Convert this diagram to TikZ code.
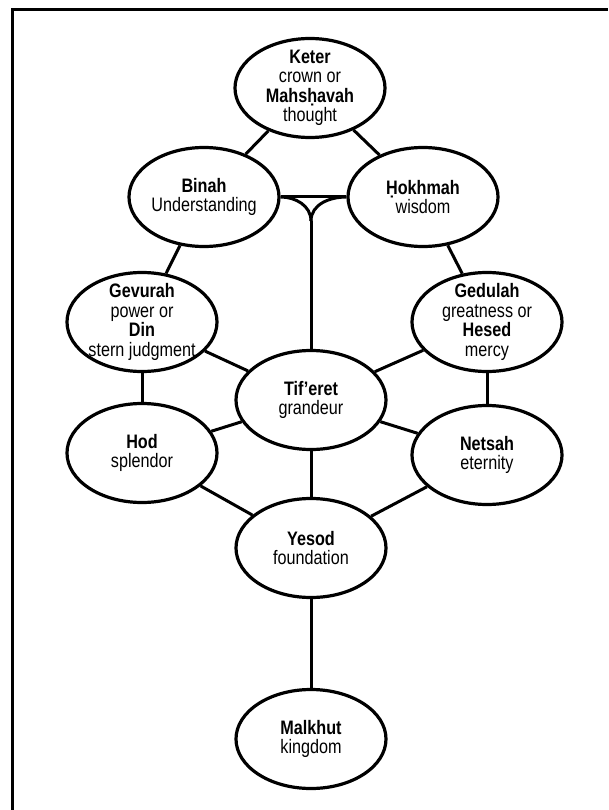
\documentclass[tikz,border=0pt]{standalone}
\usepackage{fontspec}
\setmainfont{Liberation Sans}[FakeStretch=0.83]
\usepackage{xcolor}
\usetikzlibrary{shapes.geometric}

\tikzset{
  sefira/.style={draw, ellipse, line width=3.2pt, minimum width=150pt, minimum height=99pt, inner sep=0pt},
  txt/.style={align=center, font=\fontsize{19.5}{19.5}\selectfont, inner sep=0pt},
  link/.style={line width=3pt}
}

\begin{document}
\begin{tikzpicture}[x=1pt, y=-1pt]
  \useasboundingbox (0,0) rectangle (608,810);
  %外框（只露出左边和上边）
  \draw[line width=3pt] (12,810) -- (12,10) -- (608,10);
  %绘制十个椭圆
  \node[sefira] (keter)   at (310,88)  {};
  \node[sefira] (binah)   at (204,197) {};
  \node[sefira] (hokhmah) at (423,197) {};
  \node[sefira] (gevurah) at (142,322) {};
  \node[sefira] (gedulah) at (487,322) {};
  \node[sefira] (tiferet) at (311,400) {};
  \node[sefira] (hod)     at (142,453) {};
  \node[sefira] (netsah)  at (487,455) {};
  \node[sefira] (yesod)   at (311,548) {};
  \node[sefira] (malkhut) at (311,739) {};
  %椭圆中的文字
  \node[txt] (keter-t)   at (keter)   {\textbf{Keter}\\crown or\\\textbf{Mahsḥavah}\\thought};
  \node[txt] (binah-t)   at (binah)   {\textbf{Binah}\\Understanding};
  \node[txt] (hokhmah-t) at (hokhmah) {\textbf{Ḥokhmah}\\wisdom};
  \node[txt] (gevurah-t) at (gevurah) {\textbf{Gevurah}\\power or\\\textbf{Din}\\stern judgment};
  \node[txt] (gedulah-t) at (gedulah) {\textbf{Gedulah}\\greatness or\\\textbf{Hesed}\\mercy};
  \node[txt] (tiferet-t) at (tiferet) {\textbf{Tif’eret}\\grandeur};
  \node[txt] (hod-t)     at (hod)     {\textbf{Hod}\\splendor};
  \node[txt] (netsah-t)  at (netsah)  {\textbf{Netsah}\\eternity};
  \node[txt] (yesod-t)   at (yesod)   {\textbf{Yesod}\\foundation};
  \node[txt] (malkhut-t) at (malkhut) {\textbf{Malkhut}\\kingdom};
  %连线
  \foreach \a/\b in {keter/binah, keter/hokhmah, binah/gevurah, hokhmah/gedulah,
                     gevurah/tiferet, gedulah/tiferet, gevurah/hod, gedulah/netsah,
                     hod/tiferet, netsah/tiferet, tiferet/yesod, hod/yesod,
                     netsah/yesod, yesod/malkhut}
    {\draw[link] (\a) -- (\b);}
  %Binah 与 Hokhmah 之间的分叉
  \coordinate (fork) at (311,221);
  \draw[link] (binah.east) -- (hokhmah.west);
  \draw[link] (binah.east) to[out=0, in=90] (fork);
  \draw[link] (hokhmah.west) to[out=180, in=90] (fork);
  \draw[link] (fork) -- (tiferet);
\end{tikzpicture}
\end{document}
